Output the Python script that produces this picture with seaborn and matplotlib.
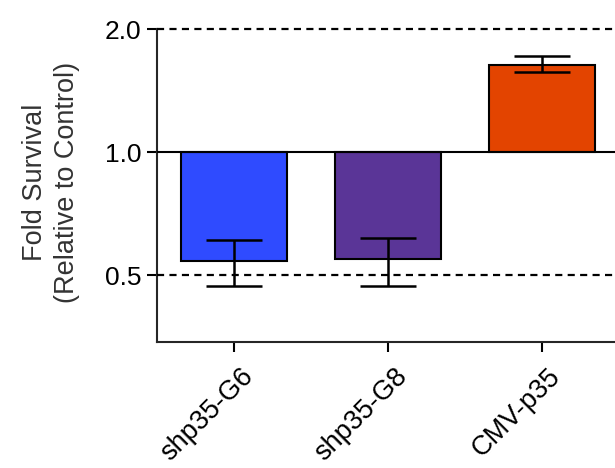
import numpy as np
import pandas as pd
import matplotlib
matplotlib.use('Agg')
import matplotlib.pyplot as plt
import matplotlib.transforms as mtransforms
from matplotlib.ticker import NullLocator
import seaborn as sns

# Data
groups = ['shp35-G6', 'shp35-G8', 'CMV-p35']
fold = np.array([0.541, 0.546, 1.633])
err_low = np.array([0.469, 0.469, 1.573])
err_high = np.array([0.608, 0.617, 1.717])
bar_colors = ['#2F4BFF', '#5A3597', '#E34400']
y_ticks = [0.5, 1.0, 2.0]
y_ticklabels = ['0.5', '1.0', '2.0']

sns.set_style('ticks')
plt.rcParams['font.family'] = ['Liberation Sans', 'DejaVu Sans']

df = pd.DataFrame({'group': groups, 'change': fold - 1})

fig = plt.figure(figsize=(6.15, 4.68), dpi=100)
ax = fig.add_axes([157/615, 1 - 342/468, 1 - 157/615, (342 - 29)/468])

# bars start at the control level (1.0)
sns.barplot(data=df, x='group', y='change', hue='group', palette=bar_colors, legend=False,
            bottom=1, width=0.69, edgecolor='black', linewidth=1.5, saturation=1,
            errorbar=None, ax=ax, zorder=2)
ax.errorbar(np.arange(len(groups)), fold, yerr=[fold - err_low, err_high - fold], fmt='none',
            ecolor='black', elinewidth=1.8, capsize=20, capthick=1.8, zorder=4)

ax.set_yscale('log', base=2)
ax.set_ylim(0.343, 2.0)
ax.set_xlim(-0.5, 2.476)
ax.set_yticks(y_ticks)
ax.set_yticklabels(y_ticklabels)
ax.yaxis.set_minor_locator(NullLocator())

# reference lines
ax.axhline(2.0, color='black', lw=1.6, ls=(0, (3.2, 2.4)), clip_on=False, zorder=3)
ax.axhline(0.5, color='black', lw=1.6, ls=(0, (3.2, 2.4)), zorder=3)
ax.axhline(1.0, color='black', lw=1.5, zorder=3)

sns.despine(ax=ax)
for side in ['left', 'bottom']:
    ax.spines[side].set_linewidth(1.5)
ax.tick_params(axis='both', length=7, width=1.5, color='black', labelcolor='black')
ax.tick_params(axis='y', labelsize=19, pad=4)
ax.tick_params(axis='x', labelsize=19.5, pad=15)

ax.set_xlabel('')
ax.set_xticks(range(len(groups)))
ax.set_xticklabels(groups, rotation=45, ha='right', va='center', rotation_mode='anchor')
offset = mtransforms.ScaledTranslation(0.15, 0, fig.dpi_scale_trans)
for lab in ax.get_xticklabels():
    lab.set_transform(lab.get_transform() + offset)

ax.set_ylabel('Fold Survival\n(Relative to Control)', fontsize=19.5, color='#333333', linespacing=1.3)
ax.yaxis.set_label_coords(-0.168, 0.511)

fig.savefig('out.png', dpi=100)
